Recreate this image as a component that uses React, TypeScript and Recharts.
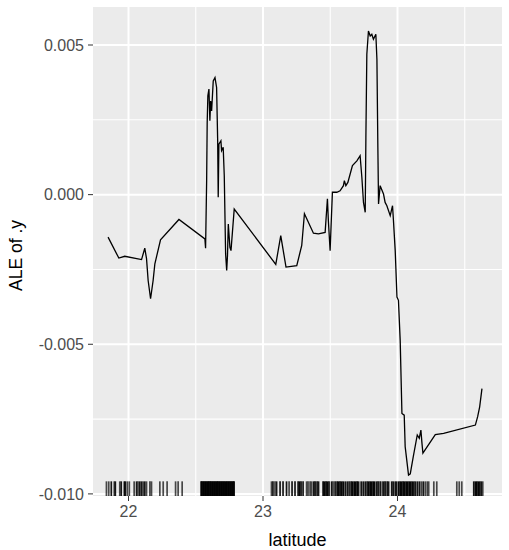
import React from 'react';
import { ComposedChart, Line, XAxis, YAxis, ReferenceLine, ReferenceArea, Label } from 'recharts';

// ALE curve (latitude -> ALE of .y)
const latitude = [
  21.848, 21.928, 21.972, 22.097, 22.121, 22.134, 22.146, 22.164, 22.183, 22.196,
  22.238, 22.375, 22.568, 22.573, 22.581, 22.585, 22.590, 22.598, 22.605, 22.611,
  22.618, 22.630, 22.643, 22.655, 22.663, 22.667, 22.672, 22.687, 22.692, 22.704,
  22.712, 22.722, 22.730, 22.736, 22.742, 22.754, 22.762, 22.786, 23.095, 23.132,
  23.171, 23.251, 23.288, 23.308, 23.375, 23.412, 23.462, 23.479, 23.486, 23.499,
  23.516, 23.549, 23.573, 23.598, 23.605, 23.616, 23.631, 23.648, 23.665, 23.698,
  23.722, 23.735, 23.747, 23.760, 23.765, 23.772, 23.784, 23.797, 23.809, 23.821,
  23.839, 23.847, 23.854, 23.859, 23.871, 23.896, 23.908, 23.921, 23.946, 23.963,
  23.970, 23.983, 23.996, 24.007, 24.020, 24.033, 24.050, 24.057, 24.082, 24.095,
  24.117, 24.147, 24.162, 24.174, 24.182, 24.189, 24.281, 24.343, 24.579, 24.596,
  24.611, 24.628,
];
const aleValues = [
  -0.00142, -0.00212, -0.00206, -0.00217, -0.00179, -0.00214, -0.00287, -0.00348, -0.00287, -0.00231,
  -0.00151, -0.00083, -0.00148, -0.00179, 0.00047, 0.00241, 0.00330, 0.00353, 0.00247, 0.00313,
  0.00280, 0.00380, 0.00391, 0.00358, 0.00180, -0.00009, 0.00169, 0.00180, 0.00147, 0.00158,
  0.00063, -0.00198, -0.00253, -0.00203, -0.00098, -0.00176, -0.00187, -0.00048, -0.00233, -0.00137,
  -0.00242, -0.00237, -0.00170, -0.00064, -0.00129, -0.00131, -0.00126, -0.00014, -0.00087, -0.00187,
  0.00008, 0.00008, 0.00013, 0.00030, 0.00047, 0.00030, 0.00041, 0.00069, 0.00097, 0.00113,
  0.00130, 0.00058, -0.00026, -0.00059, 0.00191, 0.00469, 0.00547, 0.00530, 0.00536, 0.00519,
  0.00536, 0.00452, 0.00158, -0.00031, 0.00030, 0.00002, -0.00026, -0.00037, -0.00070, -0.00037,
  -0.00087, -0.00187, -0.00342, -0.00353, -0.00487, -0.00731, -0.00737, -0.00842, -0.00937, -0.00933,
  -0.00876, -0.00803, -0.00814, -0.00787, -0.00831, -0.00864, -0.00802, -0.00798, -0.00770, -0.00742,
  -0.00709, -0.00648,
];

// Rug: observed latitudes and how many observations overlap at each mark
const rugLatitude = [
  21.836, 21.853, 21.872, 21.894, 21.902, 21.935, 21.946, 21.969, 21.976, 21.991, 22.006,
  22.042, 22.060, 22.071, 22.084, 22.097, 22.109, 22.121, 22.134, 22.159, 22.171, 22.233,
  22.258, 22.287, 22.350, 22.369, 22.399,
  22.540, 22.547, 22.555, 22.562, 22.570, 22.577, 22.585, 22.592, 22.599, 22.607, 22.614,
  22.622, 22.629, 22.637, 22.644, 22.652, 22.659, 22.666, 22.674, 22.681, 22.689, 22.696,
  22.704, 22.711, 22.719, 22.726, 22.733, 22.741, 22.748, 22.756, 22.763, 22.771, 22.778, 22.785,
  23.063, 23.074, 23.089, 23.101, 23.127, 23.149, 23.175, 23.194, 23.216, 23.238, 23.261,
  23.272, 23.283, 23.298, 23.324, 23.335, 23.350, 23.361, 23.376, 23.387, 23.402, 23.413,
  23.447, 23.458, 23.469, 23.480, 23.491, 23.510, 23.521, 23.536, 23.551, 23.562, 23.573,
  23.585, 23.596, 23.611, 23.626, 23.640, 23.655, 23.666, 23.678, 23.689, 23.700, 23.711,
  23.730, 23.745, 23.760, 23.774, 23.786, 23.797, 23.808, 23.819, 23.830, 23.845, 23.856,
  23.871, 23.886, 23.897, 23.908, 23.923, 23.934, 23.957, 23.968, 23.983, 23.994, 24.009,
  24.020, 24.031, 24.042, 24.054, 24.065, 24.076, 24.087, 24.098, 24.109, 24.121, 24.132,
  24.147, 24.162, 24.176, 24.191, 24.206, 24.221, 24.232, 24.270, 24.292, 24.441, 24.459,
  24.478, 24.567, 24.579, 24.590, 24.601, 24.612, 24.623, 24.634,
];
const rugCount = [
  1, 1, 2, 1, 2, 1, 2, 2, 2, 1, 1,
  1, 2, 1, 2, 2, 1, 2, 1, 1, 1, 1,
  1, 1, 1, 1, 1,
  3, 3, 3, 3, 3, 3, 3, 3, 3, 3, 3,
  3, 3, 3, 3, 3, 3, 3, 3, 3, 3, 3,
  3, 3, 3, 3, 3, 3, 3, 3, 3, 3, 3, 3,
  1, 2, 1, 2, 2, 2, 2, 1, 2, 2, 2,
  3, 2, 2, 1, 1, 1, 1, 2, 3, 2, 2,
  3, 3, 3, 3, 2, 2, 1, 2, 3, 3, 3,
  3, 3, 2, 2, 2, 3, 3, 3, 3, 3, 2,
  2, 2, 2, 2, 3, 3, 3, 3, 3, 2, 2,
  2, 1, 2, 2, 2, 2, 2, 2, 2, 2, 3,
  3, 3, 3, 3, 3, 3, 3, 3, 3, 2, 2,
  2, 2, 1, 2, 1, 1, 1, 1, 1, 1, 1,
  1, 2, 3, 3, 3, 2, 2, 1,
];

const xTicks = [22, 23, 24];
const xMinorBreaks = [22.5, 23.5, 24.5];
const yTicks = [-0.01, -0.005, 0, 0.005];
const yMinorBreaks = [-0.0075, -0.0025, 0.0025];

const X_DOMAIN: [number, number] = [21.736, 24.777];
const Y_DOMAIN: [number, number] = [-0.01007, 0.00627];

const lineData = latitude.map((x, i) => ({ x, y: aleValues[i] }));
const rugLength = 0.03 * (Y_DOMAIN[1] - Y_DOMAIN[0]);

const FONT = '"Liberation Sans", Arial, sans-serif';

function YTitle(props: any) {
  const vb = props.viewBox || { x: 0, y: 7, width: 93, height: 489 };
  const cx = vb.x + 22;
  const cy = vb.y + vb.height / 2 + 4;
  return (
    <text x={cx} y={cy} transform={`rotate(-90 ${cx} ${cy})`} textAnchor="middle" fill="#000" fontSize={17.5} fontFamily={FONT}>
      ALE of .y
    </text>
  );
}

export default function App() {
  return (
    <div style={{ position: 'absolute', left: 0, top: 0, width: 509, height: 550, background: '#fff', fontFamily: FONT }}>
      <ComposedChart width={509} height={550} data={lineData} margin={{ top: 7, right: 7, bottom: 0, left: 0 }}>
        <XAxis
          type="number"
          dataKey="x"
          domain={X_DOMAIN}
          ticks={xTicks}
          allowDataOverflow
          axisLine={false}
          tickLine={{ stroke: '#333333' }}
          tickSize={5}
          tickMargin={5}
          height={54}
          tick={{ fill: '#4D4D4D', fontSize: 16, fontFamily: FONT }}
        >
          <Label value="latitude" position="insideBottom" offset={4} fill="#000" fontSize={18} fontFamily={FONT} />
        </XAxis>
        <YAxis
          type="number"
          domain={Y_DOMAIN}
          ticks={yTicks}
          allowDataOverflow
          axisLine={false}
          tickLine={{ stroke: '#333333' }}
          tickSize={5}
          tickMargin={4}
          width={93}
          tickFormatter={(v: number) => v.toFixed(3)}
          tick={{ fill: '#4D4D4D', fontSize: 16, fontFamily: FONT }}
        >
          <Label content={<YTitle />} />
        </YAxis>
        <ReferenceArea
          x1={X_DOMAIN[0]}
          x2={X_DOMAIN[1]}
          y1={Y_DOMAIN[0]}
          y2={Y_DOMAIN[1]}
          fill="#EBEBEB"
          fillOpacity={1}
          stroke="none"
        />
        {yMinorBreaks.map((v) => (
          <ReferenceLine key={`ym${v}`} y={v} stroke="#FFFFFF" strokeWidth={1.1} />
        ))}
        {xMinorBreaks.map((v) => (
          <ReferenceLine key={`xm${v}`} x={v} stroke="#FFFFFF" strokeWidth={1.1} />
        ))}
        {yTicks.map((v) => (
          <ReferenceLine key={`yM${v}`} y={v} stroke="#FFFFFF" strokeWidth={2} />
        ))}
        {xTicks.map((v) => (
          <ReferenceLine key={`xM${v}`} x={v} stroke="#FFFFFF" strokeWidth={2} />
        ))}
        {rugLatitude.map((v, i) => (
          <ReferenceLine
            key={`rug${i}`}
            segment={[
              { x: v, y: Y_DOMAIN[0] },
              { x: v, y: Y_DOMAIN[0] + rugLength },
            ]}
            stroke="#000000"
            strokeWidth={1.7}
            strokeOpacity={1 - Math.pow(0.3, rugCount[i])}
            ifOverflow="visible"
          />
        ))}
        <Line
          type="linear"
          dataKey="y"
          stroke="#000000"
          strokeWidth={1.3}
          dot={false}
          activeDot={false}
          isAnimationActive={false}
        />
      </ComposedChart>
    </div>
  );
}
